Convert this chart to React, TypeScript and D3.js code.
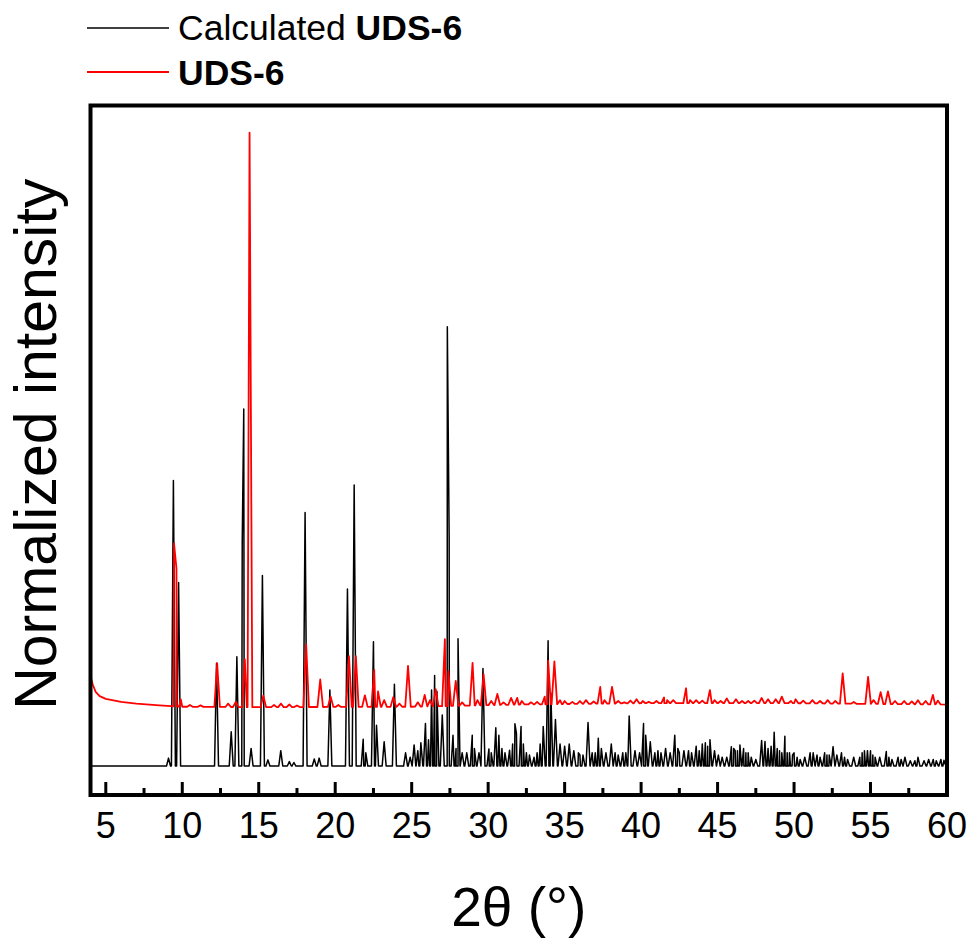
import React from "react";
import * as d3 from "d3";

// ---- Data ----
// x axis: 2θ in degrees
const xDomain: [number, number] = [4, 60];
const xMajorTicks = [5, 10, 15, 20, 25, 30, 35, 40, 45, 50, 55, 60];
const xMinorTicks = [7.5, 12.5, 17.5, 22.5, 27.5, 32.5, 37.5, 42.5, 47.5, 52.5, 57.5];
// y: normalized intensity (calculated pattern max = 100), experimental offset upward
const yDomain: [number, number] = [-6.6, 150.4];

// Calculated UDS-6: [2θ, intensity]
const calcPeaks: [number, number][] = [
  [9.1, 1.8], [9.42, 65], [9.76, 41.8], [12.24, 23.4], [13.2, 7.8], [13.57, 24.9],
  [13.92, 50.7], [14.02, 81.3], [14.5, 4], [15.24, 43.4], [15.6, 1.4], [16.44, 3.5],
  [17.0, 1], [17.3, 0.8], [18.03, 57.7], [18.63, 1.6], [18.95, 1.8], [19.65, 17.3],
  [20.8, 40.3], [21.24, 64], [21.83, 6.1], [22.0, 3], [22.5, 28.3], [22.7, 9.3],
  [23.2, 5.5], [23.87, 18.6], [24.6, 3], [24.9, 2], [25.16, 4.8], [25.4, 3.5], [25.6, 5.3],
  [25.9, 9.7], [26.1, 6], [26.3, 17.3], [26.5, 20.6], [26.65, 17], [27.0, 11.6],
  [27.33, 100], [27.45, 52], [27.7, 7], [27.9, 4], [28.03, 29], [28.3, 3], [28.6, 3],
  [28.96, 7], [29.1, 4], [29.4, 3], [29.66, 22.2], [30.05, 3.9], [30.2, 3], [30.5, 8.7],
  [30.7, 7], [30.9, 4], [31.1, 3], [31.4, 3.6], [31.6, 5], [31.75, 9.6], [31.85, 7.4],
  [32.15, 9], [32.3, 5], [32.5, 3], [32.7, 2.5], [33.0, 2], [33.2, 3], [33.4, 5],
  [33.6, 9], [33.92, 28.5], [34.1, 16.6], [34.4, 10.6], [34.7, 5], [35.0, 4.5],
  [35.3, 5], [35.6, 3.5], [35.9, 3], [36.0, 2.5], [36.2, 2.5], [36.53, 9.9], [36.8, 3],
  [37.0, 3], [37.2, 6.3], [37.4, 4], [37.7, 3], [38.05, 5], [38.3, 3], [38.5, 2.5],
  [38.8, 3], [39.0, 3], [39.22, 11.4], [39.6, 3.5], [39.9, 3], [40.16, 9.7], [40.3, 7],
  [40.6, 5.5], [40.9, 3], [41.1, 3.5], [41.3, 3], [41.6, 4], [41.9, 3], [42.2, 7],
  [42.4, 4], [42.5, 3], [42.8, 3.5], [43.1, 3.5], [43.3, 3], [43.6, 4.5], [43.8, 3.5],
  [44.0, 5], [44.2, 5.3], [44.35, 4.5], [44.5, 6], [44.8, 3.5], [45.05, 2.5], [45.3, 2],
  [45.6, 2], [45.9, 4.4], [46.05, 4], [46.15, 3.5], [46.3, 3.5], [46.46, 4.8], [46.7, 4],
  [46.85, 3], [47.0, 3], [47.2, 2], [47.5, 1.5], [47.88, 5.8], [48.1, 5.6], [48.3, 4],
  [48.5, 4.5], [48.7, 7.7], [48.9, 4], [49.05, 3.5], [49.2, 3], [49.4, 6.8], [49.55, 3],
  [49.7, 3], [49.9, 2.5], [50.0, 3], [50.2, 2], [50.4, 1.5], [50.7, 2], [51.05, 3],
  [51.25, 3], [51.5, 2.5], [51.7, 2], [52.0, 3], [52.15, 2.5], [52.3, 2.5], [52.55, 4.4],
  [52.8, 2.5], [53.1, 3], [53.3, 2], [53.5, 1.5], [53.9, 2], [54.3, 2], [54.45, 3],
  [54.6, 3.5], [54.8, 3.5], [55.0, 3.5], [55.15, 2.5], [55.3, 2], [55.6, 2], [56.03, 3.3],
  [56.2, 2], [56.4, 1.5], [56.8, 2], [57.0, 1.5], [57.25, 2], [57.6, 1.2], [57.9, 1.2],
  [58.1, 2], [58.5, 1.2], [58.8, 1.5], [59.1, 1.5], [59.3, 1.2], [59.6, 1.5], [59.8, 1.3],
];
const calcBaseline: [number, number][] = [[4, 0], [60, 0]];

// Experimental UDS-6: [2θ, intensity incl. offset]
const expPeaks: [number, number][] = [
  [9.46, 50.7], [9.62, 45], [9.9, 15.2], [10.5, 13.9], [11.2, 13.8], [12.28, 23.4],
  [13.0, 14.2], [13.5, 14.6], [14.09, 24.3], [14.4, 144.2], [15.3, 16], [16.0, 13.9],
  [16.45, 14.2], [17.0, 14.0], [17.5, 13.8], [18.1, 27.7], [19.02, 19.7], [19.7, 15.8],
  [20.2, 13.9], [20.9, 25], [21.35, 25], [21.94, 16.1], [22.55, 21.9], [22.8, 17],
  [23.2, 15], [23.8, 15.7], [24.2, 14.2], [24.76, 22.8], [25.4, 14.5], [25.85, 16.2],
  [26.2, 15], [26.57, 17.5], [27.17, 28.9], [27.4, 21.6], [27.88, 19.4], [28.3, 14.5],
  [28.98, 23.5], [29.3, 15], [29.7, 20.9], [30.2, 14.8], [30.6, 16.4], [31.0, 14.5],
  [31.5, 15.5], [31.9, 15.5], [32.2, 14.8], [32.8, 14.5], [33.2, 14.6], [33.7, 15.8],
  [33.92, 24], [34.33, 23.8], [34.7, 15], [35.0, 14.8], [35.5, 14.6], [36.0, 14.8],
  [36.4, 15], [36.9, 14.7], [37.33, 18], [37.6, 15], [38.1, 18], [38.5, 14.8],
  [38.9, 14.5], [39.3, 14.9], [39.7, 15.2], [40.1, 14.8], [40.5, 14.6], [41.0, 14.8],
  [41.5, 15.6], [41.7, 15], [42.1, 15], [42.94, 17.7], [43.2, 15.0], [43.6, 15],
  [44.0, 14.9], [44.5, 17.3], [44.8, 15], [45.2, 14.8], [45.6, 15.4], [46.2, 15.2],
  [46.6, 14.8], [47.0, 14.8], [47.4, 14.9], [47.88, 15.5], [48.3, 15.2], [48.8, 15.2],
  [49.2, 15.8], [49.8, 14.8], [50.1, 15.2], [50.6, 14.9], [51.2, 15], [51.7, 14.8],
  [52.2, 15], [52.7, 14.8], [53.18, 21.1], [53.9, 14.6], [54.84, 20.3], [55.2, 15.0],
  [55.66, 16.8], [56.14, 17], [56.6, 14.8], [57.2, 14.8], [57.7, 14.7], [58.1, 15],
  [58.6, 14.8], [59.08, 16.2], [59.4, 14.9],
];
const expBaseline: [number, number][] = [
  [4.0, 20.5], [4.15, 18.5], [4.35, 16.8], [4.6, 15.9], [5.0, 15.3], [6, 14.6],
  [7, 14.2], [8.5, 13.8], [10, 13.5], [15, 13.4], [25, 13.5], [32, 14.0],
  [40, 14.3], [50, 14.3], [60, 14.0],
];

const seriesNames = ["Calculated ", "UDS-6"];

// ---- Layout ----
const W = 974;
const H = 942;
const left = 90.5;
const right = 947;
const top = 105.5;
const bottom = 795;
const FONT = "'Liberation Sans', Arial, Helvetica, sans-serif";

function buildPoints(peaks: [number, number][], baseline: [number, number][], hw: number) {
  const base = d3
    .scaleLinear()
    .domain(baseline.map((d) => d[0]))
    .range(baseline.map((d) => d[1]))
    .clamp(true);
  const pts: [number, number][] = baseline.map((d) => [d[0], d[1]]);
  peaks.forEach(([p, v]) => {
    pts.push([p - hw, base(p - hw)]);
    pts.push([p, v]);
    pts.push([p + hw, base(p + hw)]);
  });
  pts.sort((a, b) => a[0] - b[0]);
  return pts;
}

export default function App() {
  const x = d3.scaleLinear().domain(xDomain).range([left, right]);
  const y = d3.scaleLinear().domain(yDomain).range([bottom, top]);
  const line = d3
    .line<[number, number]>()
    .x((d) => x(d[0]))
    .y((d) => y(d[1]));

  const calcPts = buildPoints(calcPeaks, calcBaseline, 0.13);
  const expPts = buildPoints(expPeaks, expBaseline, 0.18);

  return (
    <svg
      width={W}
      height={H}
      style={{ position: "absolute", left: 0, top: 0, background: "#fff" }}
      fontFamily={FONT}
    >
      <defs>
        <clipPath id="plotclip">
          <rect x={left} y={top} width={right - left} height={bottom - top} />
        </clipPath>
      </defs>
      <g clipPath="url(#plotclip)">
        <path d={line(calcPts) || ""} fill="none" stroke="#000" strokeWidth={1.5} strokeLinejoin="round" />
        <path d={line(expPts) || ""} fill="none" stroke="#f00" strokeWidth={1.8} strokeLinejoin="round" />
      </g>
      {/* frame */}
      <rect x={left} y={top} width={right - left} height={bottom - top} fill="none" stroke="#000" strokeWidth={4} />
      {/* ticks */}
      {xMajorTicks.map((t) => (
        <line key={"M" + t} x1={x(t)} x2={x(t)} y1={bottom} y2={bottom - 13} stroke="#000" strokeWidth={3} />
      ))}
      {xMinorTicks.map((t) => (
        <line key={"m" + t} x1={x(t)} x2={x(t)} y1={bottom} y2={bottom - 7} stroke="#000" strokeWidth={3} />
      ))}
      {xMajorTicks.map((t) => (
        <text key={"l" + t} x={x(t)} y={838} fontSize={36} textAnchor="middle" fill="#000">
          {t}
        </text>
      ))}
      {/* axis titles */}
      <text x={(left + right) / 2} y={926} fontSize={55} textAnchor="middle" fill="#000">
        2θ (°)
      </text>
      <text
        transform={`translate(56, ${(top + bottom) / 2 - 6}) rotate(-90)`}
        fontSize={59}
        textAnchor="middle"
        fill="#000"
      >
        Normalized intensity
      </text>
      {/* legend */}
      <line x1={87} x2={169} y1={28} y2={28} stroke="#000" strokeWidth={1.5} />
      <text x={178} y={40} fontSize={35.5} fill="#000">
        {seriesNames[0]}
        <tspan fontWeight="bold">{seriesNames[1]}</tspan>
      </text>
      <line x1={87} x2={169} y1={72} y2={72} stroke="#f00" strokeWidth={1.8} />
      <text x={178} y={85} fontSize={35.5} fontWeight="bold" fill="#000">
        {seriesNames[1]}
      </text>
    </svg>
  );
}
